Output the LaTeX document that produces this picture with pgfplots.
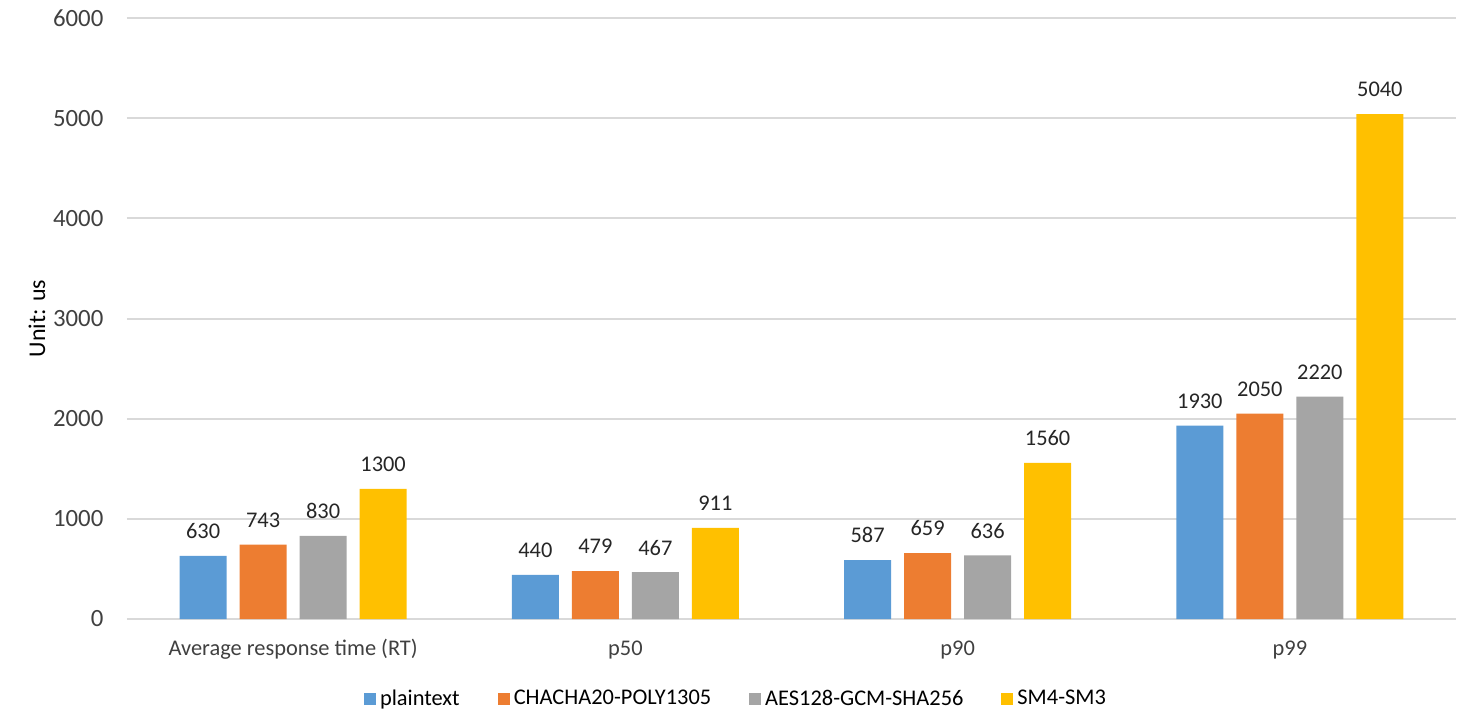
\documentclass[border=0pt]{standalone}
\usepackage{fontspec}
\setmainfont{Carlito}
\usepackage{pgfplots}
\pgfplotsset{compat=1.18}

\definecolor{sBlue}{HTML}{5B9BD5}
\definecolor{sOrange}{HTML}{ED7D31}
\definecolor{sGray}{HTML}{A5A5A5}
\definecolor{sGold}{HTML}{FFC000}
\definecolor{gridc}{HTML}{D9D9D9}
\definecolor{txt}{HTML}{404040}
\definecolor{vtxt}{HTML}{262626}

\pgfplotsset{
  sqlegend/.style={legend image code/.code={\fill[##1] (0pt,-3pt) rectangle (6pt,3pt);}},
}

\begin{document}
\begin{tikzpicture}[font=\fontsize{11.2}{13.4}\selectfont]
\useasboundingbox (-63.5pt,-50.5pt) rectangle (672.5pt,309.5pt);
\begin{axis}[
  scale only axis,
  width=664.5pt, height=300.5pt,
  at={(0,0)}, anchor=south west,
  ybar=6.5pt, bar width=23.5pt,
  xmin=-0.5, xmax=3.5,
  ymin=0, ymax=6000,
  xtick={0,1,2,3},
  xticklabels={Average response time (RT), p50, p90, p99},
  ytick={0,1000,...,6000},
  axis line style={draw=none},
  major tick length=0pt,
  ymajorgrids,
  major grid style={draw=gridc, line width=1pt},
  /pgf/number format/assume math mode=true,
  /pgf/number format/set thousands separator={},
  tick label style={text=txt},
  every x tick label/.append style={anchor=base, yshift=-18pt},
  every y tick label/.append style={xshift=-8.3pt, font=\fontsize{12.4}{14}\selectfont},
  ylabel={Unit: us},
  every axis y label/.style={at={([xshift=-45pt]axis description cs:0,0.5)}, rotate=90, anchor=center, text=black, font=\fontsize{12}{14}\selectfont},
  nodes near coords,
  every node near coord/.append style={anchor=south, yshift=5pt, text=vtxt, /pgf/number format/assume math mode=true},
  clip=false,
  legend columns=-1,
  legend style={draw=none, fill=none, at={(axis description cs:0.459,0)}, anchor=center, yshift=-40pt,
    text=black, /tikz/every even column/.append style={column sep=17pt}},
]
\addplot[fill=sBlue, draw=none, sqlegend] coordinates {(0,630) (1,440) (2,587) (3,1930)};
\addplot[fill=sOrange, draw=none, sqlegend] coordinates {(0,743) (1,479) (2,659) (3,2050)};
\addplot[fill=sGray, draw=none, sqlegend] coordinates {(0,830) (1,467) (2,636) (3,2220)};
\addplot[fill=sGold, draw=none, sqlegend] coordinates {(0,1300) (1,911) (2,1560) (3,5040)};
\legend{plaintext, CHACHA20-POLY1305, AES128-GCM-SHA256, SM4-SM3}
\end{axis}
\end{tikzpicture}
\end{document}
